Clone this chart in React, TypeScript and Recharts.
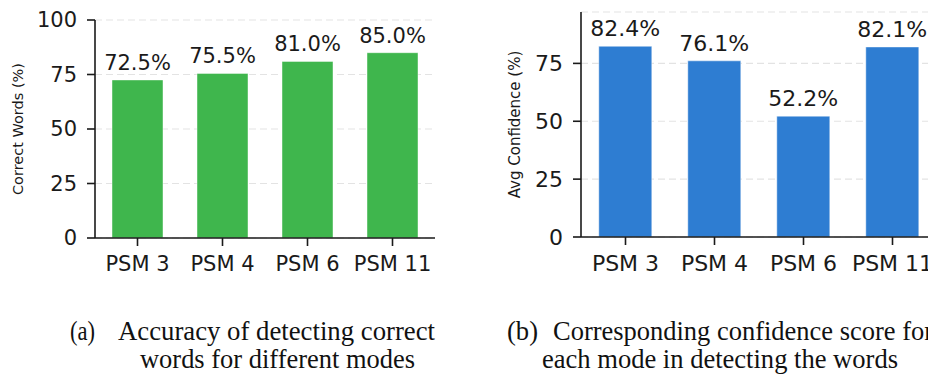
import React from 'react';
import {
  BarChart,
  Bar,
  XAxis,
  YAxis,
  CartesianGrid,
  LabelList,
} from 'recharts';

const modes = ['PSM 3', 'PSM 4', 'PSM 6', 'PSM 11'];
const correctWords = [72.5, 75.5, 81.0, 85.0];
const avgConfidence = [82.4, 76.1, 52.2, 82.1];
const accuracyTicks = [0, 25, 50, 75, 100];
const confidenceTicks = [0, 25, 50, 75];

const SANS = '"DejaVu Sans", sans-serif';
const SERIF = '"Liberation Serif", "Times New Roman", serif';
const INK = '#1a1a1a';

const accuracyData = modes.map((mode, i) => ({ mode, value: correctWords[i] }));
const confidenceData = modes.map((mode, i) => ({ mode, value: avgConfidence[i] }));

const fmtPct = (v: any) => `${Number(v).toFixed(1)}%`;

interface PanelProps {
  data: { mode: string; value: number }[];
  ticks: number[];
  domainMax: number;
  color: string;
  yLabel: string;
  fontSize: number;
  labelSize: number;
  labelOffset: number;
  width: number;
  height: number;
  margin: { top: number; right: number; bottom: number; left: number };
  yAxisWidth: number;
}

const Panel: React.FC<PanelProps> = ({
  data,
  ticks,
  domainMax,
  color,
  yLabel,
  fontSize,
  labelSize,
  labelOffset,
  width,
  height,
  margin,
  yAxisWidth,
}) => (
  <BarChart
    width={width}
    height={height}
    data={data}
    margin={margin}
    barCategoryGap="20%"
    style={{ fontFamily: SANS }}
  >
    <CartesianGrid
      vertical={false}
      stroke="#e3e3e3"
      strokeDasharray="7 4"
      strokeWidth={1.2}
    />
    <XAxis
      dataKey="mode"
      height={50}
      tickSize={8}
      tickMargin={10}
      axisLine={{ stroke: INK, strokeWidth: 1.6 }}
      tickLine={{ stroke: INK, strokeWidth: 1.6 }}
      tick={{ fill: INK, fontSize, fontFamily: SANS }}
      interval={0}
    />
    <YAxis
      width={yAxisWidth}
      domain={[0, domainMax]}
      ticks={ticks}
      allowDataOverflow
      tickSize={8}
      tickMargin={10}
      axisLine={{ stroke: INK, strokeWidth: 1.6 }}
      tickLine={{ stroke: INK, strokeWidth: 1.6 }}
      tick={{ fill: INK, fontSize, fontFamily: SANS }}
      label={{
        value: yLabel,
        angle: -90,
        position: 'insideLeft',
        offset: labelOffset,
        style: { textAnchor: 'middle', fontSize: labelSize, fill: INK, fontFamily: SANS },
      }}
    />
    <Bar dataKey="value" fill={color} stroke="rgba(255,255,255,0.45)" strokeWidth={1} isAnimationActive={false}>
      <LabelList
        dataKey="value"
        position="top"
        offset={10}
        formatter={fmtPct}
        style={{ fill: INK, fontSize, fontFamily: SANS }}
      />
    </Bar>
  </BarChart>
);

// caption lines: Times-like serif, slightly condensed as in the typeset figure
const Captions: React.FC = () => (
  <svg width={928} height={374} style={{ position: 'absolute', left: 0, top: 0, pointerEvents: 'none' }}>
    <g fontFamily={SERIF} fontSize={28} fill="#111" lengthAdjust="spacingAndGlyphs">
      <text x={70} y={340} textLength={25} lengthAdjust="spacingAndGlyphs">(a)</text>
      <text x={118} y={340} textLength={317} lengthAdjust="spacingAndGlyphs">Accuracy of detecting correct</text>
      <text x={140} y={368} textLength={275} lengthAdjust="spacingAndGlyphs">words for different modes</text>
      <text x={507} y={340} textLength={31} lengthAdjust="spacingAndGlyphs">(b)</text>
      <text x={553} y={340} textLength={380} lengthAdjust="spacingAndGlyphs">Corresponding confidence score for</text>
      <text x={542} y={368} textLength={356} lengthAdjust="spacingAndGlyphs">each mode in detecting the words</text>
    </g>
  </svg>
);

export default function App() {
  return (
    <div
      style={{
        position: 'fixed',
        left: 0,
        top: 0,
        width: 928,
        height: 374,
        overflow: 'hidden',
        background: '#fff',
      }}
    >
      <div style={{ position: 'absolute', left: 0, top: 0 }}>
        <Panel
          data={accuracyData}
          ticks={accuracyTicks}
          domainMax={100}
          color="#3fb64d"
          yLabel="Correct Words (%)"
          fontSize={21}
          labelSize={14.5}
          labelOffset={18}
          width={460}
          height={300}
          margin={{ top: 20, right: 25, bottom: 12, left: 0 }}
          yAxisWidth={95}
        />
      </div>
      <div style={{ position: 'absolute', left: 480, top: 0 }}>
        <Panel
          data={confidenceData}
          ticks={confidenceTicks}
          domainMax={97.2}
          color="#2e7dd2"
          yLabel="Avg Confidence (%)"
          fontSize={22}
          labelSize={15}
          labelOffset={35}
          width={460}
          height={300}
          margin={{ top: 12, right: 3, bottom: 13, left: 0 }}
          yAxisWidth={101}
        />
      </div>
      <Captions />
    </div>
  );
}
